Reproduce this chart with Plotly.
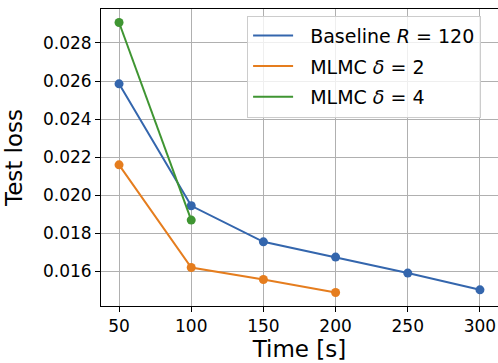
import plotly.graph_objects as go

# Wall-clock time budgets (seconds) and the test loss reached
time_baseline = [50, 100, 150, 200, 250, 300]
loss_baseline = [0.02585, 0.01945, 0.01756, 0.01676, 0.01592, 0.01504]

time_mlmc2 = [50, 100, 150, 200]
loss_mlmc2 = [0.02160, 0.01621, 0.01558, 0.01490]

time_mlmc4 = [50, 100]
loss_mlmc4 = [0.02907, 0.01870]

x_ticks = [50, 100, 150, 200, 250, 300]
y_ticks = [0.016, 0.018, 0.020, 0.022, 0.024, 0.026, 0.028]

NB = "\u00a0"
series = [
    (NB * 2 + "Baseline <i>R</i> = 120", time_baseline, loss_baseline, "#3466ad"),
    (NB * 2 + "MLMC <i>δ</i> = 2", time_mlmc2, loss_mlmc2, "#e57d1e"),
    (NB * 2 + "MLMC <i>δ</i> = 4", time_mlmc4, loss_mlmc4, "#3f9532"),
]

FONT = "DejaVu Sans"

fig = go.Figure()
for i, (name, xs, ys, color) in enumerate(series):
    # the line carries the legend entry (line-only swatch) ...
    fig.add_trace(go.Scatter(
        x=xs, y=ys, name=name, mode="lines",
        line=dict(color=color, width=2),
        legendgroup=f"g{i}",
    ))
    # ... and the dots sit on top of it
    fig.add_trace(go.Scatter(
        x=xs, y=ys, name=name, mode="markers",
        marker=dict(color=color, size=9),
        legendgroup=f"g{i}", showlegend=False,
    ))

# 5% padding around the data, like matplotlib's default autoscale margins
all_x = time_baseline + time_mlmc2 + time_mlmc4
all_y = loss_baseline + loss_mlmc2 + loss_mlmc4
xpad = 0.05 * (max(all_x) - min(all_x))
ypad = 0.05 * (max(all_y) - min(all_y))

axis_common = dict(
    showgrid=True, gridcolor="#b0b0b0", gridwidth=1,
    showline=True, linecolor="black", linewidth=1,
    ticks="outside", ticklen=5, tickwidth=1, tickcolor="black",
    tickfont=dict(family=FONT, size=17, color="black"),
    zeroline=False,
)

fig.update_xaxes(
    **axis_common,
    range=[min(all_x) - xpad, max(all_x) + xpad],
    tickvals=x_ticks,
    mirror=True,
    title=dict(text="Time [s]", font=dict(family=FONT, size=23, color="black"), standoff=3),
)
fig.update_yaxes(
    **axis_common,
    range=[min(all_y) - ypad, max(all_y) + ypad],
    tickvals=y_ticks, tickformat=".3f",
    title=dict(text="Test loss", font=dict(family=FONT, size=23, color="black"), standoff=13),
)

fig.update_layout(
    width=498, height=363,
    margin=dict(l=101, r=0, t=9, b=57),
    paper_bgcolor="white", plot_bgcolor="white",
    font=dict(family=FONT, color="black"),
    showlegend=True,
    legend=dict(
        x=0.368, y=0.978, xanchor="left", yanchor="top",
        bgcolor="rgba(255,255,255,0.8)", bordercolor="#cccccc", borderwidth=1,
        font=dict(family=FONT, size=19, color="black"),
        itemwidth=40,
        tracegroupgap=3,
    ),
)

fig.write_html("out.html")
